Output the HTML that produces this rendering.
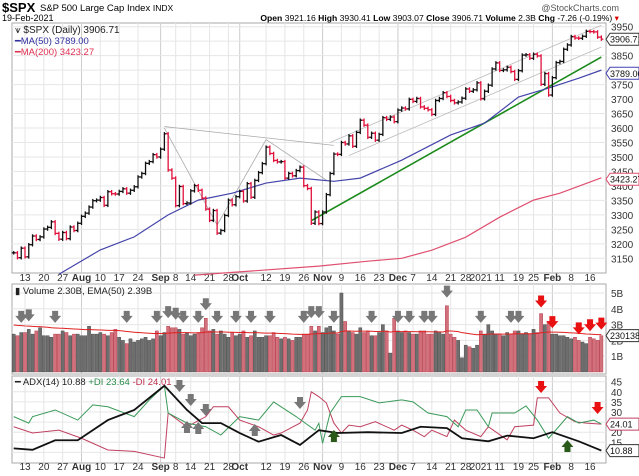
<!DOCTYPE html>
<html><head><meta charset="utf-8"><style>
body{margin:0;background:#fff;font-family:"Liberation Sans",sans-serif;}
svg{display:block}
text{font-family:"Liberation Sans",sans-serif;}
</style></head><body>
<svg id="c" width="639" height="476" viewBox="0 0 639 476">
<text x="2" y="12" font-size="13" font-weight="bold">$SPX</text>
<text x="40" y="11" font-size="9.5">S&amp;P 500 Large Cap Index <tspan font-size="8.5">INDX</tspan></text>
<text x="619" y="11" font-size="9" fill="#555" text-anchor="end">@StockCharts.com</text>
<text x="2" y="21" font-size="9">19-Feb-2021</text>
<text x="619" y="21" font-size="8.6" text-anchor="end"><tspan font-weight="bold">Open</tspan> 3921.16 <tspan font-weight="bold">High</tspan> 3930.41 <tspan font-weight="bold">Low</tspan> 3903.07 <tspan font-weight="bold">Close</tspan> 3906.71 <tspan font-weight="bold">Volume</tspan> 2.3B <tspan font-weight="bold">Chg</tspan> -7.26 (-0.19%) <tspan fill="#d00">▾</tspan></text>
<g id="g"></g>
</svg>
<script>
const closes=[3169,3152,3185,3155,3197,3227,3215,3224,3251,3257,3276,3236,3216,3239,3218,3258,3246,3271,
3295,3306,3327,3349,3351,3360,3333,3380,3373,3372,3381,3390,3375,3385,3397,3431,3443,3478,3484,3508,3500,
3527,3580,3455,3427,3332,3398,3339,3341,3383,3401,3385,3358,3320,3281,3315,3237,3246,3298,3351,3335,3363,
3381,3348,3408,3361,3419,3446,3477,3534,3512,3488,3483,3484,3427,3443,3435,3453,3465,3401,3391,3271,3310,3270,
3310,3370,3443,3510,3509,3550,3545,3573,3537,3585,3627,3610,3568,3582,3558,3578,3636,3630,3638,3622,
3662,3669,3666,3699,3692,3702,3673,3668,3663,3647,3695,3702,3722,3709,3695,3687,3690,3703,3735,3727,3732,3756,
3701,3727,3748,3804,3825,3799,3801,3810,3795,3768,3798,3852,3853,3841,3855,3849,3751,3788,3714,
3774,3826,3830,3872,3887,3916,3911,3910,3917,3934,3933,3932,3914,3907];
const volumes=[2.4,2.3,2.5,2.5,2.7,2.4,2.6,2.8,2.3,2.3,2.2,2.4,2.4,2.6,2.5,2.3,2.4,2.4,
2.3,2.3,2.9,2.4,2.4,2.5,2.4,2.3,2.5,2.7,2.2,2.0,1.8,2.1,1.9,2.0,2.1,2.2,2.0,2.1,2.6,
2.3,2.5,2.9,2.8,2.8,2.7,2.4,2.5,2.3,2.4,2.5,2.8,3.4,2.6,2.7,2.4,2.6,2.4,2.2,2.5,2.3,
2.4,2.6,2.2,2.3,2.6,2.2,2.2,2.3,2.3,2.5,2.2,2.1,2.2,2.1,2.0,2.2,2.2,2.4,2.4,2.9,2.6,2.9,
2.5,2.8,2.9,2.6,2.4,5.0,3.2,2.6,2.5,2.4,2.8,2.5,2.6,2.3,2.3,2.5,3.0,2.6,1.2,3.4,
2.6,2.5,2.6,2.5,2.4,2.4,2.6,2.6,2.4,2.4,2.6,2.5,2.4,4.2,2.4,2.2,2.0,0.9,1.7,1.6,1.5,1.7,
2.6,2.4,3.0,2.6,2.4,2.4,2.3,2.5,2.4,2.6,2.6,2.4,2.5,2.4,2.7,2.5,3.7,3.0,3.2,
2.4,2.4,2.3,2.3,2.2,2.1,2.2,2.0,1.9,1.8,2.2,2.1,2.0,2.3];
const volEmaSeed=3.0;
const ma50=[[12,3095],[23,3179],[32,3224],[41,3300],[49,3351],[58,3375],[67,3410],[76,3427],[85,3416],[92,3427],[103,3489],[116,3576],[125,3617],[134,3707],[142,3738],[150,3772],[156,3800]];
const ma200=[[48,3092],[81,3123],[94,3140],[103,3150],[111,3178],[120,3223],[129,3292],[138,3351],[145,3375],[156,3428]];
const adx=[[0,12],[5,11.3],[11,16],[17,16],[25,26],[32,31],[40,43],[46,31],[50,24.5],[55,24.5],[60,19.6],[65,15.3],[71,18.6],[76,13.7],[81,21],[86,19.6],[94,20],[103,19.6],[108,22.7],[115,22],[119,17],[126,15.5],[131,18.3],[138,17],[143,20],[150,15.5],[156,10.9]];
const pdi=[[0,27.7],[4,24.5],[5,27.7],[11,31],[17,26],[21,33.5],[25,32.6],[32,27.7],[36,36],[40,43],[41,29.5],[46,24.5],[51,22.7],[55,18.6],[60,27.7],[65,26],[69,35],[75,27.7],[80,21],[81,24.4],[82,14.5],[84,29.5],[87,37.6],[92,37.6],[97,34.5],[103,36],[106,35],[110,29.5],[115,27.7],[118,22.7],[120,31],[123,31],[126,22.7],[127,29.5],[133,29.5],[136,33],[139,26],[142,17],[147,27.7],[150,24.5],[154,26],[156,24]];
const mdi=[[0,22.7],[5,19.6],[12,21],[18,17],[25,11.2],[32,10.5],[40,7.2],[41,29.5],[46,22.7],[51,27.7],[53,32.6],[57,32.6],[60,26],[65,22.7],[69,18.6],[71,19.6],[76,24.5],[78,31],[79,40],[81,37.6],[83,34.5],[85,24.5],[87,19.6],[89,23.5],[92,22.7],[96,25.2],[101,21],[103,23.5],[106,21],[109,17.8],[111,21],[115,17.8],[117,26],[120,21],[124,17.8],[126,22.7],[131,16.2],[133,22.7],[138,23.5],[139,37],[142,37],[145,29.5],[149,25.2],[152,24.5],[156,24]];
const xTicks=[[3,"13"],[8,"20"],[13,"27"],[18,"Aug"],[23,"10"],[28,"17"],[33,"24"],[39,"Sep"],[43,"8"],[47,"14"],[52,"21"],[57,"28"],[60,"Oct"],[67,"12"],[72,"19"],[77,"26"],[82,"Nov"],[87,"9"],[92,"16"],[97,"23"],[102,"Dec"],[106,"7"],[111,"14"],[116,"21"],[120,"28"],[124,"2021"],[129,"11"],[134,"19"],[138,"25"],[143,"Feb"],[148,"8"],[153,"16"]];
const priceTicks=[3150,3200,3250,3300,3350,3400,3450,3500,3550,3600,3650,3700,3750,3800,3850,3950];
const volTicks=[1,2,3,4,5];
const adxTicks=[15,20,25,30,35,40,45];
const volArrowIdx=[2,4,11,30,38,41,43,45,49,51,54,59,63,68,77,79,81,85,95,102,105,109,111,115,124,132,134];
const volRedArrowIdx=[140,143,150,153,156];
const adxDownIdx=[44,47,51,76];const adxUpIdx=[46,49,64];
const adxRedDownIdx=[140,155];const adxGreenUpIdx=[85,147];

const NS="http://www.w3.org/2000/svg",G=document.getElementById('g');
function el(t,a,p){const e=document.createElementNS(NS,t);for(const k in a)e.setAttribute(k,a[k]);(p||G).appendChild(e);return e;}
const L=12,R=606;
const X=i=>13.7+i*3.767;
const PY=v=>26.7+(3950-v)*0.2895;
const VY=v=>372-v*15.8;
const AY=v=>381.7+(45-v)*2.02;
const panels=[[23,273,'price-panel'],[284,374,'volume-panel'],[376,463,'adx-panel']];
panels.forEach(p=>{const r=el('rect',{x:L,y:p[0],width:R-L,height:p[1]-p[0],fill:'#fff',stroke:'#aaa'});
});
panels.forEach(p=>{xTicks.forEach(t=>{const major=isNaN(+t[1]);el('line',{x1:X(t[0]),x2:X(t[0]),y1:p[0],y2:p[1],stroke:major?'#ccc':'#e6e6e6'});});});
priceTicks.concat([3900]).forEach(v=>el('line',{x1:L,x2:R,y1:PY(v),y2:PY(v),stroke:'#e6e6e6'}));
volTicks.forEach(v=>el('line',{x1:L,x2:R,y1:VY(v),y2:VY(v),stroke:'#e6e6e6'}));
adxTicks.concat([10]).forEach(v=>el('line',{x1:L,x2:R,y1:AY(v),y2:AY(v),stroke:'#e6e6e6'}));
priceTicks.forEach(v=>{const t=el('text',{x:611,y:PY(v)+4,'font-size':10,fill:'#333'});t.textContent=v;
});
volTicks.forEach(v=>{const t=el('text',{x:611,y:VY(v)+4,'font-size':10,fill:'#333'});t.textContent=v+'B';
});
adxTicks.forEach(v=>{const t=el('text',{x:611,y:AY(v)+4,'font-size':10,fill:'#333'});t.textContent=v;
});
[281,470].forEach(yy=>xTicks.forEach(t=>{const major=isNaN(+t[1]);const tx=el('text',{x:X(t[0]),y:yy,'font-size':10,'text-anchor':'middle','font-weight':major?'bold':'normal',fill:'#333'});tx.textContent=t[1];
}));
function pl(pts,fy,st,w,name){const e=el('polyline',{points:pts.map(p=>X(p[0])+','+fy(p[1])).join(' '),fill:'none',stroke:st,'stroke-width':w});
return e;}
pl([[40,3605],[85,3540]],PY,'#aaa',0.8,'resistance-line');
pl([[40,3600],[54,3265],[67,3560],[83,3420]],PY,'#aaa',0.8,'zigzag-line');
pl([[84,3550],[156,3955]],PY,'#bbb',0.8,'channel-upper');
pl([[89,3505],[156,3880]],PY,'#bbb',0.8,'channel-lower');
pl([[79,3280],[156,3845]],PY,'#1a8a1a',1.6,'uptrend-line');
pl(ma200,PY,'#e05070',1.2,'ma200-line');
pl(ma50,PY,'#4444aa',1.2,'ma50-line');
closes.forEach((c,i)=>{const o=i?closes[i-1]:c;const up=i===0||c>=o;const col=up?'#111':'#e0103a';
const hi=Math.max(o,c)+6,lo=Math.min(o,c)-6,x=X(i);
const g=el('g',{stroke:col,'stroke-width':1.3});

el('line',{x1:x,x2:x,y1:PY(hi),y2:PY(lo)},g);el('line',{x1:x-2,x2:x,y1:PY(o),y2:PY(o)},g);el('line',{x1:x,x2:x+2,y1:PY(c),y2:PY(c)},g);});
let ema=volEmaSeed;const emaPts=[];
volumes.forEach((v,i)=>{const up=i===0||closes[i]>=closes[i-1];const b=el('rect',{x:X(i)-1.6,y:VY(v),width:3.2,height:372-VY(v),fill:up?'#6e6e6e':'#d2707c',stroke:up?'#444':'#b03040','stroke-width':0.4});

ema=ema+(v-ema)*2/51;emaPts.push([i,ema]);});
pl(emaPts,VY,'#e02020',1,'volume-ema-line');
function arrow(x,y,down,col,name){const d=down?`M${x-3},${y-6}h6v5h3l-6,7l-6,-7h3z`:`M${x-3},${y+6}h6v-5h3l-6,-7l-6,7h3z`;
const a=el('path',{d:d,fill:col});}
volArrowIdx.forEach(i=>arrow(X(i),VY(Math.max(volumes[i],2.6))-14,true,'#777','volume-signal-arrow'));
volRedArrowIdx.forEach(i=>arrow(X(i),VY(volumes[i])-12,true,'#e81010','volume-signal-arrow-red'));
pl(mdi,AY,'#c04060',1,'minus-di-line');
pl(pdi,AY,'#3a9a5a',1,'plus-di-line');
pl(adx,AY,'#111',1.8,'adx-line');
adxDownIdx.forEach((i,k)=>arrow(X(i),[386,400,410,403][k],true,'#777','adx-down-arrow'));
adxUpIdx.forEach((i,k)=>arrow(X(i),[427,428,430][k],false,'#777','adx-up-arrow'));
adxRedDownIdx.forEach((i,k)=>arrow(X(i),[387,408][k],true,'#e81010','adx-red-arrow'));
adxGreenUpIdx.forEach((i,k)=>arrow(X(i),[436,446][k],false,'#2a5a1a','adx-green-arrow'));
function tx(x,y,s,col,name,sz){const t=el('text',{x:x,y:y,'font-size':sz||10,fill:col});t.textContent=s;return t;}
tx(15,33,'⩛ $SPX (Daily) 3906.71','#222','price-legend');
tx(15,44,'━MA(50) 3789.00','#3030a0','ma50-legend',9.5);
tx(15,55,'━MA(200) 3423.27','#e03050','ma200-legend',9.5);
tx(15,294,'▮ Volume 2.30B, EMA(50) 2.39B','#222','volume-legend',9.5);
const al=tx(15,385,'','#222','adx-legend',9.5);al.innerHTML='━ ADX(14) 10.88 <tspan fill="#2a8a4a">+DI 23.64</tspan> <tspan fill="#c03050">-DI 24.01</tspan>';
function tag(y,s,col,name){const r=el('path',{d:`M606,${y} l4,-6 h29 v12 h-29z`,fill:'#fff',stroke:col});
tx(610,y+3.5,s,'#111',name+'-text',9);}
tag(PY(3906.71),'3906.71','#333','last-price-tag');
tag(PY(3789),'3789.00','#4040b0','ma50-tag');
tag(PY(3423.27),'3423.27','#e05070','ma200-tag');
tag(VY(2.3),'2301386','#333','volume-tag');
tag(AY(24.01),'24.01','#c04060','minus-di-tag');
tag(AY(10.88),'10.88','#333','adx-tag');
</script>
</body></html>
